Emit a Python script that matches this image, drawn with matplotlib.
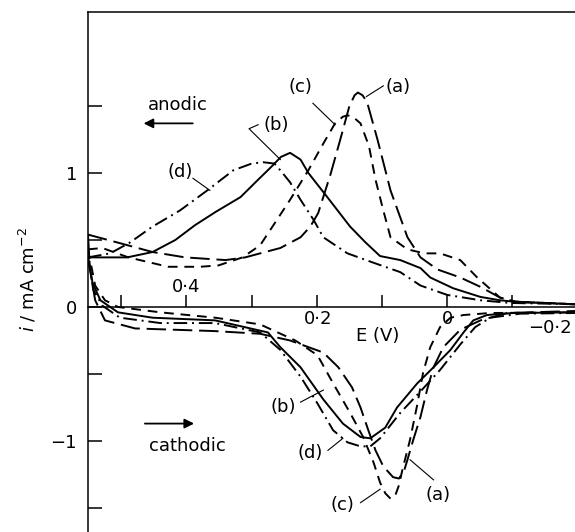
import matplotlib
matplotlib.use("Agg")
import matplotlib.pyplot as plt

# Potential (V) and current density (mA cm^-2).
# Anodic branches, listed from high E (left) to low E (right).
E_a_an = [0.551, 0.505, 0.452, 0.402, 0.340, 0.310, 0.287, 0.256, 0.225, 0.210,
          0.198, 0.179, 0.164, 0.150, 0.142, 0.137, 0.130, 0.123, 0.107, 0.087,
          0.061, 0.041, 0.015, -0.020, -0.051, -0.081, -0.104, -0.150, -0.196]
i_a_an = [0.54, 0.48, 0.41, 0.37, 0.35, 0.37, 0.40, 0.44, 0.52, 0.60,
          0.70, 0.99, 1.25, 1.50, 1.58, 1.60, 1.58, 1.53, 1.25, 0.87,
          0.52, 0.37, 0.28, 0.22, 0.15, 0.07, 0.04, 0.03, 0.02]

E_b_an = [0.551, 0.491, 0.452, 0.417, 0.387, 0.355, 0.317, 0.290, 0.271, 0.255,
          0.241, 0.225, 0.213, 0.184, 0.149, 0.125, 0.103, 0.072, 0.041, 0.026,
          -0.009, -0.051, -0.081, -0.112, -0.150, -0.196]
i_b_an = [0.37, 0.37, 0.41, 0.50, 0.61, 0.71, 0.82, 0.95, 1.04, 1.12,
          1.15, 1.10, 1.00, 0.82, 0.60, 0.48, 0.38, 0.35, 0.29, 0.22,
          0.14, 0.075, 0.05, 0.035, 0.03, 0.02]

E_c_an = [0.551, 0.529, 0.489, 0.428, 0.379, 0.351, 0.314, 0.287, 0.268, 0.241,
          0.213, 0.190, 0.172, 0.160, 0.153, 0.145, 0.133, 0.120, 0.110, 0.098,
          0.087, 0.061, 0.035, 0.011, -0.020, -0.046, -0.081, -0.104, -0.150, -0.196]
i_c_an = [0.43, 0.44, 0.37, 0.30, 0.30, 0.31, 0.37, 0.46, 0.60, 0.80,
          1.02, 1.22, 1.37, 1.42, 1.43, 1.42, 1.37, 1.20, 0.95, 0.72,
          0.52, 0.43, 0.40, 0.40, 0.35, 0.22, 0.07, 0.04, 0.03, 0.02]

E_d_an = [0.551, 0.517, 0.487, 0.452, 0.410, 0.368, 0.328, 0.300, 0.282, 0.265,
          0.256, 0.241, 0.225, 0.205, 0.190, 0.153, 0.113, 0.072, 0.041, 0.000,
          -0.051, -0.097, -0.150, -0.196]
i_d_an = [0.37, 0.40, 0.48, 0.60, 0.72, 0.87, 1.02, 1.07, 1.08, 1.07,
          1.02, 0.93, 0.80, 0.65, 0.52, 0.40, 0.33, 0.26, 0.16, 0.09,
          0.05, 0.03, 0.025, 0.02]

# Cathodic branches, from the reversal at the left edge to the right.
E_a_ca = [0.551, 0.548, 0.540, 0.525, 0.479, 0.356, 0.287, 0.241, 0.190, 0.167,
          0.146, 0.133, 0.121, 0.110, 0.098, 0.083, 0.074, 0.066, 0.061, 0.052,
          0.041, 0.031, 0.021, 0.006, -0.020, -0.051, -0.092, -0.196]
i_a_ca = [0.54, 0.28, 0.05, -0.10, -0.16, -0.18, -0.20, -0.25, -0.34, -0.45,
          -0.60, -0.75, -0.92, -1.07, -1.19, -1.27, -1.28, -1.22, -1.14, -0.99,
          -0.82, -0.62, -0.45, -0.30, -0.17, -0.10, -0.045, -0.03]

E_b_ca = [0.551, 0.544, 0.532, 0.505, 0.452, 0.356, 0.275, 0.256, 0.225, 0.190,
          0.160, 0.133, 0.118, 0.095, 0.077, 0.046, 0.021, -0.005, -0.025, -0.040,
          -0.061, -0.101, -0.196]
i_b_ca = [0.37, 0.18, 0.05, -0.04, -0.08, -0.10, -0.19, -0.30, -0.45, -0.69,
          -0.87, -0.97, -0.98, -0.90, -0.75, -0.57, -0.45, -0.32, -0.19, -0.10,
          -0.06, -0.045, -0.04]

E_c_ca = [0.551, 0.540, 0.525, 0.505, 0.440, 0.356, 0.287, 0.233, 0.199, 0.175,
          0.149, 0.129, 0.113, 0.103, 0.095, 0.087, 0.080, 0.074, 0.069, 0.057,
          0.046, 0.037, 0.026, 0.011, -0.005, -0.025, -0.066, -0.196]
i_c_ca = [0.43, 0.16, 0.05, 0.0, -0.04, -0.08, -0.13, -0.25, -0.36, -0.57,
          -0.79, -0.97, -1.16, -1.31, -1.39, -1.43, -1.41, -1.33, -1.22, -0.99,
          -0.73, -0.49, -0.30, -0.15, -0.08, -0.06, -0.045, -0.04]

E_d_ca = [0.551, 0.543, 0.529, 0.502, 0.440, 0.356, 0.287, 0.256, 0.225, 0.199,
          0.175, 0.153, 0.133, 0.118, 0.103, 0.072, 0.041, 0.011, -0.020, -0.043,
          -0.066, -0.112, -0.196]
i_d_ca = [0.37, 0.13, 0.01, -0.08, -0.12, -0.12, -0.19, -0.32, -0.52, -0.72,
          -0.92, -1.01, -1.04, -1.04, -0.98, -0.79, -0.63, -0.47, -0.28, -0.15,
          -0.08, -0.05, -0.045]

y_ticks = [-1.5, -1.0, -0.5, 0.0, 0.5, 1.0, 1.5]
y_tick_labels = ["", "\u22121", "", "0", "", "1", ""]
x_ticks = [0.5, 0.4, 0.3, 0.2, 0.1, 0.0, -0.1]

plt.rcParams["font.family"] = "DejaVu Sans"
plt.rcParams["font.size"] = 13

fig = plt.figure(figsize=(5.75, 5.32), dpi=100)
ax = fig.add_axes([88 / 575, 0.0, 487 / 575, 520 / 532])

lw = 1.4
common = dict(color="k", lw=lw, solid_joinstyle="round",
              dash_joinstyle="round", dash_capstyle="butt")
styles = {
    "a": dict(linestyle=(0, (10, 3.5)), **common),
    "b": dict(linestyle="-", **common),
    "c": dict(linestyle=(0, (5, 3.5)), **common),
    "d": dict(linestyle=(0, (7, 2.5, 1, 2.5)), **common),
}

ax.plot(E_a_an, i_a_an, **styles["a"])
ax.plot(E_a_ca, i_a_ca, **styles["a"])
ax.plot(E_b_an, i_b_an, **styles["b"])
ax.plot(E_b_ca, i_b_ca, **styles["b"])
ax.plot(E_c_an, i_c_an, **styles["c"])
ax.plot(E_c_ca, i_c_ca, **styles["c"])
ax.plot(E_d_an, i_d_an, **styles["d"])
ax.plot(E_d_ca, i_d_ca, **styles["d"])

ax.set_xlim(0.551, -0.196)
ax.set_ylim(-1.679, 2.201)

# axes frame: left and top, x axis through zero
ax.spines["right"].set_visible(False)
ax.spines["bottom"].set_position(("data", 0))
for s in ["left", "top", "bottom"]:
    ax.spines[s].set_linewidth(1.1)

ax.set_yticks(y_ticks)
ax.set_yticklabels(y_tick_labels)
ax.tick_params(axis="y", direction="in", length=10, width=1.1, pad=8,
               labelsize=13)
ax.set_xticks(x_ticks)
ax.tick_params(axis="x", direction="in", length=9, width=1.1,
               labelbottom=False)

# x tick labels placed by hand as in the original
ax.text(0.400, 0.15, "0\u00b74", ha="center", va="center", fontsize=13)
ax.text(0.198, -0.09, "0\u00b72", ha="center", va="center", fontsize=13)
ax.text(0.000, -0.09, "0", ha="center", va="center", fontsize=13)
ax.text(-0.157, -0.16, "\u22120\u00b72", ha="center", va="center", fontsize=13)
ax.text(0.107, -0.22, "E (V)", ha="center", va="center", fontsize=13)

fig.text(28 / 575, 1 - 280 / 532, r"$i$ / mA cm$^{-2}$", rotation=90,
         ha="center", va="center", fontsize=13)

# scan direction
ax.text(0.414, 1.51, "anodic", ha="center", va="center", fontsize=13)
ax.annotate("", xy=(0.470, 1.37), xytext=(0.386, 1.37),
            arrowprops=dict(arrowstyle="-|>", color="k", lw=1.3,
                            mutation_scale=14))
ax.text(0.399, -1.04, "cathodic", ha="center", va="center", fontsize=13)
ax.annotate("", xy=(0.384, -0.87), xytext=(0.468, -0.87),
            arrowprops=dict(arrowstyle="-|>", color="k", lw=1.3,
                            mutation_scale=14))

# curve labels with leader lines
labels = [
    ("(a)", 0.075, 1.64, [0.124, 0.098], [1.57, 1.65]),
    ("(c)", 0.225, 1.64, [0.206, 0.172], [1.52, 1.36]),
    ("(b)", 0.263, 1.36, [0.290, 0.304, 0.256], [1.36, 1.33, 1.10]),
    ("(d)", 0.410, 1.01, [0.390, 0.364], [0.96, 0.87]),
    ("(b)", 0.252, -0.75, [0.225, 0.190], [-0.71, -0.62]),
    ("(d)", 0.210, -1.09, [0.183, 0.160], [-1.07, -0.98]),
    ("(c)", 0.160, -1.48, [0.133, 0.103], [-1.46, -1.36]),
    ("(a)", 0.014, -1.40, [0.021, 0.057], [-1.29, -1.14]),
]
for text, tx, ty, lx, ly in labels:
    ax.text(tx, ty, text, ha="center", va="center", fontsize=13)
    ax.plot(lx, ly, color="k", lw=0.8)

fig.savefig("out.png", dpi=100)
